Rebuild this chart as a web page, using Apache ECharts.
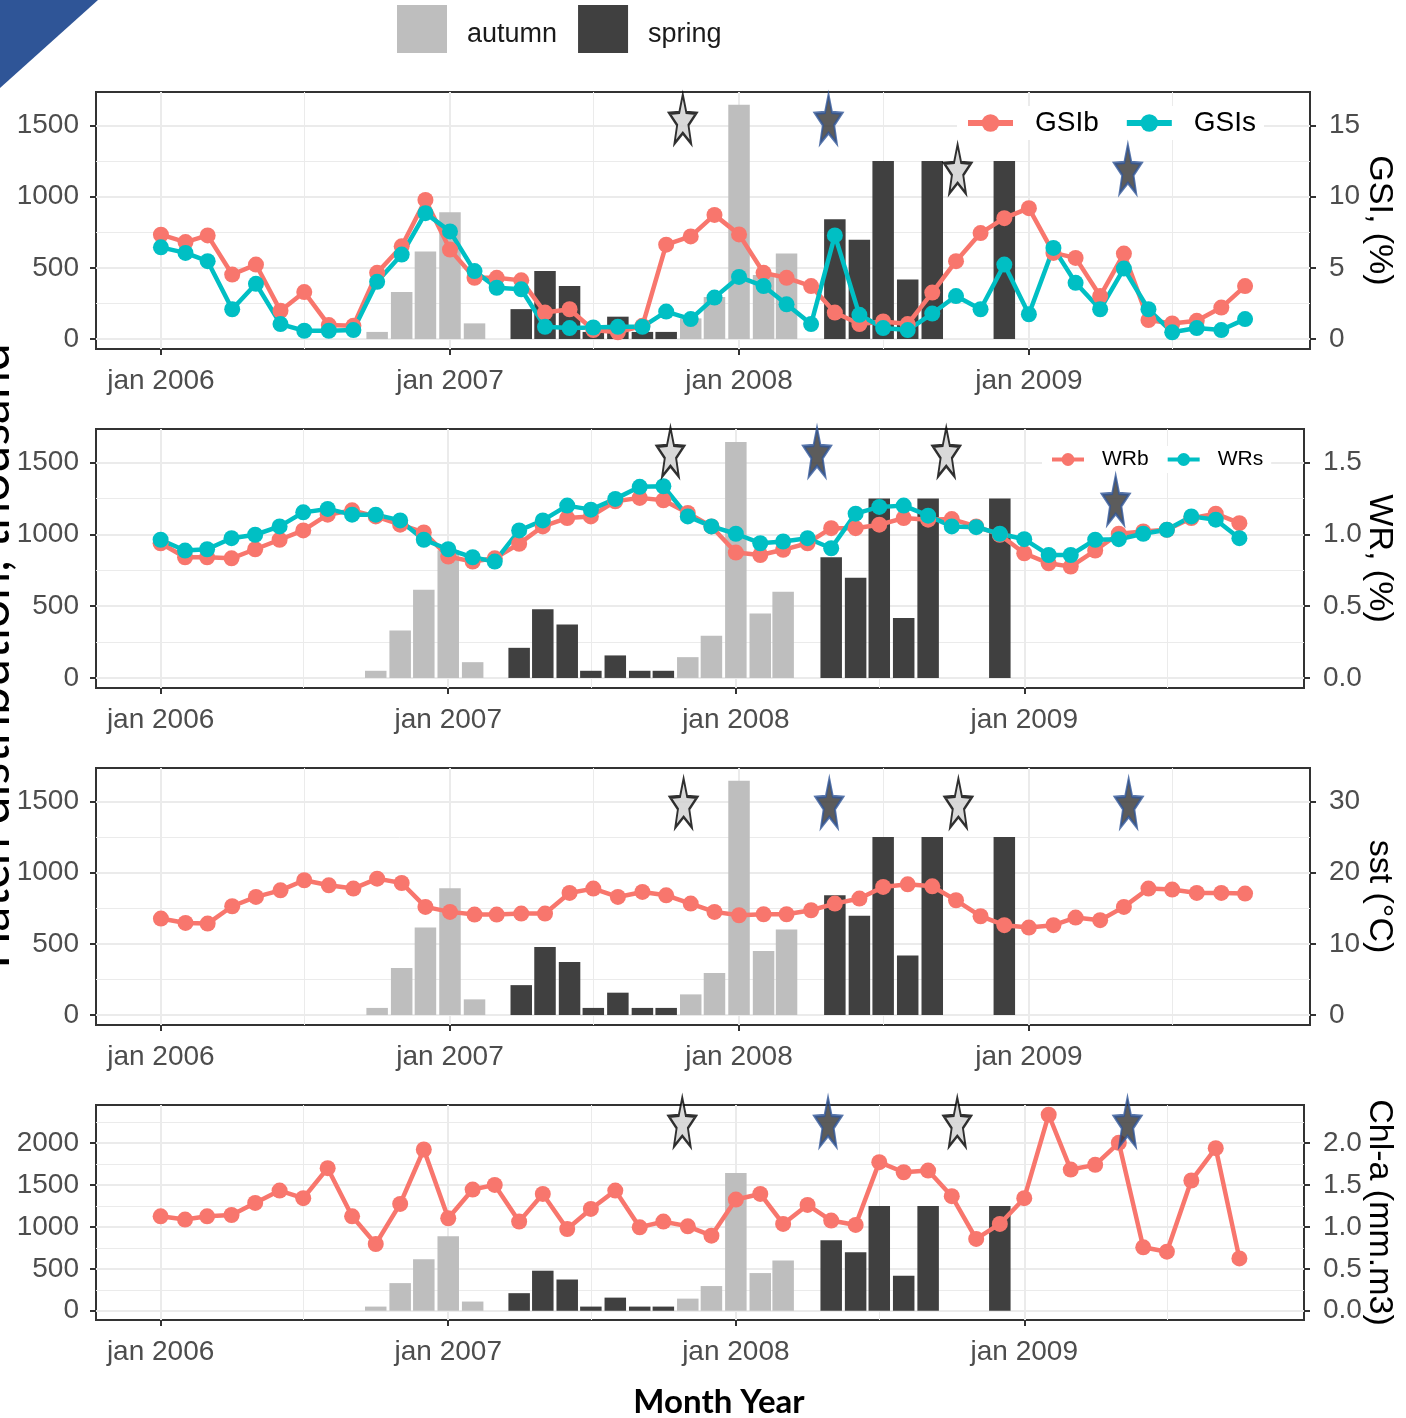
<!DOCTYPE html>
<html>
<head>
<meta charset="utf-8">
<script src="https://cdn.jsdelivr.net/npm/echarts@6/dist/echarts.min.js"></script>
<style>
  html, body { margin: 0; padding: 0; background: #ffffff; }
  #chart { width: 1406px; height: 1418px; }
</style>
</head>
<body>
<div id="chart"></div>
<script>
// ---- monthly series, Jan 2006 to Oct 2009 ----
const months = [
  '2006-01','2006-02','2006-03','2006-04','2006-05','2006-06','2006-07','2006-08','2006-09','2006-10','2006-11','2006-12',
  '2007-01','2007-02','2007-03','2007-04','2007-05','2007-06','2007-07','2007-08','2007-09','2007-10','2007-11','2007-12',
  '2008-01','2008-02','2008-03','2008-04','2008-05','2008-06','2008-07','2008-08','2008-09','2008-10','2008-11','2008-12',
  '2009-01','2009-02','2009-03','2009-04','2009-05','2009-06','2009-07','2009-08','2009-09','2009-10'
];

// gonadosomatic index (%)
const gsiB = [7.33, 6.81, 7.28, 4.53, 5.23, 1.98, 3.30, 0.98, 0.93, 4.65, 6.51, 9.77,
              6.28, 4.30, 4.30, 4.12, 1.86, 2.09, 0.63, 0.47, 0.93, 6.63, 7.21, 8.72,
              7.35, 4.65, 4.30, 3.72, 1.86, 1.05, 1.23, 1.05, 3.26, 5.47, 7.44, 8.49,
              9.19, 6.05, 5.70, 3.02, 6.00, 1.33, 1.09, 1.28, 2.21, 3.72];
const gsiS = [6.44, 6.05, 5.47, 2.09, 3.88, 1.05, 0.58, 0.58, 0.63, 4.02, 5.93, 8.84,
              7.56, 4.77, 3.60, 3.49, 0.86, 0.77, 0.81, 0.86, 0.86, 1.93, 1.40, 2.91,
              4.36, 3.72, 2.44, 1.05, 7.28, 1.70, 0.77, 0.63, 1.79, 3.02, 2.09, 5.23,
              1.74, 6.40, 3.95, 2.09, 4.95, 2.09, 0.47, 0.77, 0.63, 1.40];

// relative weight
const wrB = [0.939, 0.841, 0.841, 0.834, 0.897, 0.963, 1.028, 1.138, 1.168, 1.126, 1.068, 1.014,
             0.846, 0.811, 0.834, 0.935, 1.056, 1.114, 1.126, 1.231, 1.255, 1.238, 1.150, 1.056,
             0.874, 0.857, 0.893, 0.939, 1.044, 1.044, 1.068, 1.114, 1.103, 1.107, 1.056, 0.998,
             0.869, 0.799, 0.776, 0.888, 1.005, 1.021, 1.033, 1.114, 1.145, 1.079];
const wrS = [0.963, 0.888, 0.897, 0.974, 0.998, 1.056, 1.154, 1.178, 1.138, 1.138, 1.098, 0.963,
             0.897, 0.841, 0.811, 1.028, 1.098, 1.201, 1.173, 1.248, 1.332, 1.336, 1.126, 1.056,
             1.005, 0.939, 0.951, 0.974, 0.904, 1.145, 1.192, 1.201, 1.131, 1.056, 1.051, 1.005,
             0.967, 0.857, 0.857, 0.963, 0.967, 1.005, 1.033, 1.126, 1.103, 0.974];

// sea surface temperature (°C)
const sst = [13.55, 12.94, 12.85, 15.28, 16.59, 17.52, 18.93, 18.22, 17.76, 19.16, 18.55, 15.19,
             14.49, 14.11, 14.11, 14.25, 14.25, 17.15, 17.76, 16.59, 17.29, 16.82, 15.65, 14.49,
             14.02, 14.16, 14.16, 14.72, 15.65, 16.36, 17.99, 18.36, 18.08, 16.12, 13.88, 12.62,
             12.29, 12.62, 13.69, 13.32, 15.19, 17.76, 17.62, 17.15, 17.15, 17.06];

// chlorophyll-a
const chla = [1.127, 1.088, 1.127, 1.143, 1.287, 1.434, 1.343, 1.701, 1.127, 0.797, 1.275, 1.924,
              1.104, 1.446, 1.502, 1.064, 1.394, 0.976, 1.215, 1.434, 0.996, 1.064, 1.008, 0.896,
              1.327, 1.394, 1.036, 1.263, 1.076, 1.024, 1.773, 1.653, 1.673, 1.367, 0.857, 1.036,
              1.343, 2.339, 1.685, 1.741, 2.004, 0.757, 0.705, 1.554, 1.940, 0.625];

// hatch distribution (thousand)
const autumnMonths = ['2006-10','2006-11','2006-12','2007-01','2007-02','2007-11','2007-12','2008-01','2008-02','2008-03'];
const autumnHatch  = [50, 330, 615, 890, 110, 145, 295, 1645, 450, 600];
const springMonths = ['2007-04','2007-05','2007-06','2007-07','2007-08','2007-09','2007-10','2008-05','2008-06','2008-07','2008-08','2008-09','2008-12'];
const springHatch  = [210, 478, 373, 50, 157, 50, 50, 842, 698, 1250, 418, 1250, 1250];

// spawning-season markers (drawn on the hatch axis of each panel)
const starKinds = ['autumn', 'spring', 'autumn', 'spring'];
const gsiStarDates = ['2007-10-22', '2008-04-23', '2008-10-03', '2009-05-06'];
const gsiStarLevels = [1545, 1545, 1194, 1194];
const wrStarDates = ['2007-10-10', '2008-04-13', '2008-09-24', '2009-04-27'];
const wrStarLevels = [1574, 1574, 1574, 1240];
const sstStarDates = ['2007-10-23', '2008-04-24', '2008-10-04', '2009-05-07'];
const sstStarLevels = [1489, 1489, 1489, 1489];
const chlStarDates = ['2007-10-25', '2008-04-27', '2008-10-08', '2009-05-12'];
const chlStarLevels = [2252, 2252, 2252, 2252];

// axis ticks
const yearTicks = ['2006-01', '2007-01', '2008-01', '2009-01'];
const xTickLabels = ['jan 2006', 'jan 2007', 'jan 2008', 'jan 2009'];
const midYearLines = ['2006-07', '2007-07', '2008-07', '2009-07'];
const hatchTicks = [0, 500, 1000, 1500];
const hatchMinor = [250, 750, 1250];
const chlHatchTicks = [0, 500, 1000, 1500, 2000];
const chlHatchMinor = [250, 750, 1250, 1750, 2250];
const gsiTicks = [0, 5, 10, 15];
const wrTicks = [0, 0.5, 1.0, 1.5];
const sstTicks = [0, 10, 20, 30];
const chlTicks = [0, 0.5, 1.0, 1.5, 2.0];
const xRange = ['2005-10-11', '2009-12-22'];

// ---- helpers ----
// calendar day number counted from 1 Jan 2006
const DAY0 = Date.UTC(2006, 0, 1);
function t(s) {
  const p = s.split('-').map(Number);
  return (Date.UTC(p[0], p[1] - 1, p[2] || 1) - DAY0) / 86400000;
}
const yearTickDays = yearTicks.map(t);
const midYearDays = midYearLines.map(t);

const FONT = 'Liberation Sans';
const RED = '#F8766D';
const TEAL = '#00BFC4';
const AUTUMN = '#BEBEBE';
const SPRING = '#404040';
const FRAME = '#333333';
const GRIDC = '#EBEBEB';
const TICKTXT = '#4D4D4D';

// tall five-point star outline used for the season markers
const STAR = (function () {
  const pts = [];
  for (let k = 0; k < 10; k++) {
    const r = k % 2 === 0 ? 1 : 0.42;
    const a = -Math.PI / 2 + k * Math.PI / 5;
    pts.push((r * Math.cos(a)).toFixed(4) + ' ' + (r * Math.sin(a)).toFixed(4));
  }
  return 'path://M' + pts.join(' L') + ' Z';
})();

const panels = [
  { top: 92, height: 257, right: 96, hMin: -70, hMax: 1735, hTicks: hatchTicks, hMinor: hatchMinor,
    factor: 100, rTicks: gsiTicks, rFmt: v => String(v), rName: 'GSI, (%)', nameGap: 52,
    lines: [[gsiB, 'GSIb', RED], [gsiS, 'GSIs', TEAL]], stars: [gsiStarDates, gsiStarLevels] },
  { top: 429, height: 259, right: 102, hMin: -70, hMax: 1735, hTicks: hatchTicks, hMinor: hatchMinor,
    factor: 1000, rTicks: wrTicks, rFmt: v => v.toFixed(1), rName: 'WR, (%)', nameGap: 58,
    lines: [[wrB, 'WRb', RED], [wrS, 'WRs', TEAL]], stars: [wrStarDates, wrStarLevels] },
  { top: 768, height: 257, right: 96, hMin: -70, hMax: 1735, hTicks: hatchTicks, hMinor: hatchMinor,
    factor: 50, rTicks: sstTicks, rFmt: v => String(v), rName: 'sst (°C)', nameGap: 52,
    lines: [[sst, 'sst', RED]], stars: [sstStarDates, sstStarLevels] },
  { top: 1105, height: 215, right: 102, hMin: -110, hMax: 2455, hTicks: chlHatchTicks, hMinor: chlHatchMinor,
    factor: 1000, rTicks: chlTicks, rFmt: v => v.toFixed(1), rName: 'Chl-a (mm.m3)', nameGap: 58,
    lines: [[chla, 'Chl-a', RED]], stars: [chlStarDates, chlStarLevels] }
];

const grids = [], xAxes = [], yAxes = [], series = [];
const noLine = { show: false, onZero: false };

panels.forEach(function (p, i) {
  grids.push({
    left: 96, right: p.right, top: p.top, height: p.height,
    show: true, borderColor: FRAME, borderWidth: 2, backgroundColor: '#ffffff',
    containLabel: false, outerBoundsMode: 'none'
  });

  const xi = xAxes.length;
  xAxes.push({
    type: 'value', gridIndex: i, position: 'bottom', min: t(xRange[0]), max: t(xRange[1]),
    axisLine: noLine,
    axisTick: { show: true, customValues: yearTickDays, length: 6, lineStyle: { color: FRAME, width: 2 } },
    axisLabel: {
      show: true, customValues: yearTickDays, hideOverlap: false,
      formatter: function (v) { return xTickLabels[yearTickDays.indexOf(v)] || ''; },
      fontSize: 28, color: TICKTXT, fontFamily: FONT, margin: 18
    },
    splitLine: { show: true, lineStyle: { color: GRIDC, width: 2 } }
  });
  xAxes.push({
    type: 'value', gridIndex: i, position: 'bottom', min: t(xRange[0]), max: t(xRange[1]),
    axisLine: noLine,
    axisTick: { show: false, customValues: midYearDays },
    axisLabel: { show: false, customValues: midYearDays },
    splitLine: { show: true, lineStyle: { color: GRIDC, width: 1 } }
  });

  const yi = yAxes.length;
  yAxes.push({
    type: 'value', gridIndex: i, position: 'left', min: p.hMin, max: p.hMax,
    axisLine: noLine,
    axisTick: { show: true, customValues: p.hTicks, length: 6, lineStyle: { color: FRAME, width: 2 } },
    axisLabel: { customValues: p.hTicks, formatter: v => String(v), fontSize: 28, color: TICKTXT, fontFamily: FONT, margin: 17 },
    splitLine: { show: true, lineStyle: { color: GRIDC, width: 2 } }
  });
  yAxes.push({
    type: 'value', gridIndex: i, position: 'left', min: p.hMin, max: p.hMax,
    axisLine: noLine,
    axisTick: { show: false, customValues: p.hMinor },
    axisLabel: { show: false, customValues: p.hMinor },
    splitLine: { show: true, lineStyle: { color: GRIDC, width: 1 } }
  });
  yAxes.push({
    type: 'value', gridIndex: i, position: 'right', min: p.hMin / p.factor, max: p.hMax / p.factor,
    axisLine: noLine,
    axisTick: { show: true, customValues: p.rTicks, length: 6, lineStyle: { color: FRAME, width: 2 } },
    axisLabel: { customValues: p.rTicks, formatter: p.rFmt, fontSize: 28, color: TICKTXT, fontFamily: FONT, margin: 19 },
    splitLine: { show: false },
    name: p.rName, nameLocation: 'middle', nameRotate: -90, nameGap: p.nameGap, nameMoveOverlap: false,
    nameTextStyle: { fontSize: 34, color: '#000000', fontFamily: FONT }
  });

  // hatch bars
  series.push({
    type: 'bar', name: 'autumn', xAxisIndex: xi, yAxisIndex: yi, barWidth: 21.5, barGap: '-100%',
    itemStyle: { color: AUTUMN }, z: 2,
    data: autumnMonths.map((m, k) => [t(m), autumnHatch[k]])
  });
  series.push({
    type: 'bar', name: 'spring', xAxisIndex: xi, yAxisIndex: yi, barWidth: 21.5, barGap: '-100%',
    itemStyle: { color: SPRING }, z: 2,
    data: springMonths.map((m, k) => [t(m), springHatch[k]])
  });

  // monthly indices on the secondary axis
  p.lines.forEach(function (ln) {
    series.push({
      type: 'line', name: ln[1], xAxisIndex: xi, yAxisIndex: yi + 2,
      symbol: 'circle', symbolSize: 16, showSymbol: true,
      lineStyle: { width: 4.5, color: ln[2] }, itemStyle: { color: ln[2] }, z: 3,
      data: months.map((m, k) => [t(m), ln[0][k]])
    });
  });

  // season markers
  series.push({
    type: 'scatter', xAxisIndex: xi, yAxisIndex: yi, silent: true, z: 5,
    symbol: STAR, symbolSize: [27, 49], symbolKeepAspect: false,
    data: p.stars[0].map(function (d, k) {
      const autumn = starKinds[k] === 'autumn';
      return {
        value: [t(d), p.stars[1][k]],
        itemStyle: autumn
          ? { color: '#D0D0D0', borderColor: '#000000', borderWidth: 2.5 }
          : { color: '#333333', borderColor: '#2F5597', borderWidth: 2.5 }
      };
    })
  });
});

const chart = echarts.init(document.getElementById('chart'), null, { renderer: 'canvas' });
chart.setOption({
  animation: false,
  backgroundColor: '#ffffff',
  textStyle: { fontFamily: FONT },
  grid: grids,
  xAxis: xAxes,
  yAxis: yAxes,
  legend: [
    {
      data: ['autumn', 'spring'], left: 397, top: 5, padding: 0, icon: 'rect',
      itemWidth: 50, itemHeight: 48, itemGap: 21, selectedMode: false,
      formatter: '{n|{name}}',
      textStyle: {
        fontSize: 27, color: '#1A1A1A', fontFamily: FONT,
        rich: { n: { fontSize: 27, color: '#1A1A1A', fontFamily: FONT, padding: [12, 0, 0, 15] } }
      }
    },
    {
      data: ['GSIb', 'GSIs'], left: 957, top: 106, padding: [3, 8], backgroundColor: '#ffffff',
      itemWidth: 45, itemHeight: 22, itemGap: 25, selectedMode: false, lineStyle: { width: 6 },
      textStyle: { fontSize: 28, color: '#000000', fontFamily: FONT, padding: [0, 0, 0, 17] }
    },
    {
      data: ['WRb', 'WRs'], left: 1042, top: 446, padding: [3, 8], backgroundColor: '#ffffff',
      itemWidth: 32, itemHeight: 16, itemGap: 17, selectedMode: false, lineStyle: { width: 4 },
      textStyle: { fontSize: 21, color: '#000000', fontFamily: FONT, padding: [0, 0, 0, 13] }
    }
  ],
  graphic: [
    { type: 'polygon', silent: true, shape: { points: [[0, 0], [98, 0], [0, 88]] }, style: { fill: '#2F5597' } },
    {
      type: 'text', silent: true, x: -7, y: 656, rotation: Math.PI / 2,
      style: { text: 'Hatch distribution, thousand', font: '50px Lato', fill: '#000000', align: 'center', verticalAlign: 'middle' }
    },
    {
      type: 'text', silent: true, x: 719, y: 1402,
      style: { text: 'Month Year', font: 'bold 33px Lato', fill: '#000000', align: 'center', verticalAlign: 'middle' }
    }
  ],
  series: series
});
</script>
</body>
</html>
